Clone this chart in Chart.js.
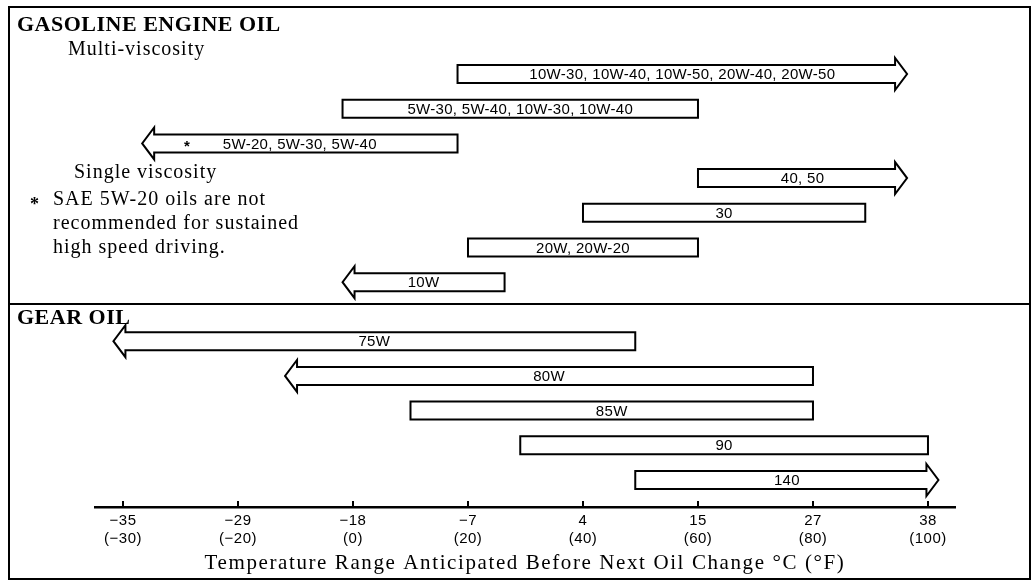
<!DOCTYPE html>
<html>
<head>
<meta charset="utf-8">
<title>Oil viscosity chart</title>
<script src="https://cdn.jsdelivr.net/npm/chart.js@4.4.1/dist/chart.umd.min.js"></script>
<style>
  html, body { margin: 0; padding: 0; background: #fff; }
  #wrap { width: 1034px; height: 581px; }
</style>
</head>
<body>
<div id="wrap"><canvas id="oilChart"></canvas></div>
<script>
// Axis ticks: deg C on the first line, deg F in brackets below
const tickC = [-35, -29, -18, -7, 4, 15, 27, 38];
const tickF = [-30, -20, 0, 20, 40, 60, 80, 100];

// Gasoline engine oil (multi-viscosity rows first, then single viscosity)
const gasLabels = [
  "10W-30, 10W-40, 10W-50, 20W-40, 20W-50",
  "5W-30, 5W-40, 10W-30, 10W-40",
  "5W-20, 5W-30, 5W-40",
  "40, 50",
  "30",
  "20W, 20W-20",
  "10W",
];
const gasFrom = [-8, -19, -34, 15, 4, -7, -19];
const gasTo = [36, 15, -8, 36, 32, 15, -3.5];
const gasArrow = ["right", "", "left", "right", "", "", "left"];
const gasMark = ["", "", "*", "", "", "", ""];

// Gear oil
const gearLabels = ["75W", "80W", "85W", "90", "140"];
const gearFrom = [-35.5, -24.5, -12.5, -2, 9];
const gearTo = [9, 27, 27, 38, 39];
const gearArrow = ["left", "left", "", "", "right"];

const SERIF = '"Liberation Serif", "DejaVu Serif", serif';
const SANS = '"Liberation Sans", "DejaVu Sans", sans-serif';
const GEAR_OFFSET = 7.7; // gap left for the "GEAR OIL" heading

// the printed axis spaces its ticks evenly, so map deg C onto tick index
function toAxis(c) {
  let i = 0;
  while (i < tickC.length - 2 && c > tickC[i + 1]) i++;
  return i + (c - tickC[i]) / (tickC[i + 1] - tickC[i]);
}
const minus = (n) => String(n).replace("-", "\u2212");

const rowLabels = gasLabels.concat(gearLabels);
const rowArrow = gasArrow.concat(gearArrow);
const rowMark = gasMark.concat(gearLabels.map(() => ""));
const rowData = [];
gasLabels.forEach((l, i) => rowData.push({ x: [toAxis(gasFrom[i]), toAxis(gasTo[i])], y: i }));
gearLabels.forEach((l, i) => rowData.push({ x: [toAxis(gearFrom[i]), toAxis(gearTo[i])], y: GEAR_OFFSET + i }));

const oilPlugin = {
  id: "oilPlugin",
  beforeDraw(chart) {
    const ctx = chart.ctx;
    ctx.fillStyle = "#fff";
    ctx.fillRect(0, 0, chart.width, chart.height);
    ctx.letterSpacing = "0.5px"; // slightly loose tick labels
  },
  afterDatasetsDraw(chart) {
    const ctx = chart.ctx;
    const bars = chart.getDatasetMeta(0).data;
    const h = 9, hh = 16, L = 12;
    ctx.save();
    ctx.letterSpacing = "0.3px";
    bars.forEach((bar, i) => {
      const p = bar.getProps(["x", "base", "y"], true);
      const left = Math.min(p.x, p.base);
      const right = Math.max(p.x, p.base);
      const y = p.y;
      ctx.beginPath();
      if (rowArrow[i] === "right") {
        ctx.moveTo(left, y - h);
        ctx.lineTo(right - L, y - h);
        ctx.lineTo(right - L, y - hh);
        ctx.lineTo(right, y);
        ctx.lineTo(right - L, y + hh);
        ctx.lineTo(right - L, y + h);
        ctx.lineTo(left, y + h);
      } else if (rowArrow[i] === "left") {
        ctx.moveTo(right, y - h);
        ctx.lineTo(left + L, y - h);
        ctx.lineTo(left + L, y - hh);
        ctx.lineTo(left, y);
        ctx.lineTo(left + L, y + hh);
        ctx.lineTo(left + L, y + h);
        ctx.lineTo(right, y + h);
      } else {
        ctx.rect(left, y - h, right - left, 2 * h);
      }
      ctx.closePath();
      ctx.fillStyle = "#fff";
      ctx.fill();
      ctx.lineWidth = 2;
      ctx.strokeStyle = "#000";
      ctx.stroke();

      ctx.fillStyle = "#000";
      ctx.font = "15px " + SANS;
      ctx.textAlign = "center";
      ctx.textBaseline = "middle";
      ctx.fillText(rowLabels[i], (left + right) / 2, y + 1);
      if (rowMark[i]) {
        ctx.font = "bold 15px " + SANS;
        ctx.fillText(rowMark[i], left + 45, y + 3);
      }
    });
    ctx.restore();
  },
  afterDraw(chart) {
    const ctx = chart.ctx;
    const xs = chart.scales.x;
    const area = chart.chartArea;
    ctx.save();
    // small tick marks standing on the axis line
    ctx.strokeStyle = "#000";
    ctx.lineWidth = 2;
    tickC.forEach((c, i) => {
      const px = xs.getPixelForValue(i);
      ctx.beginPath();
      ctx.moveTo(px, area.bottom - 6);
      ctx.lineTo(px, area.bottom);
      ctx.stroke();
    });
    // frame and divider
    ctx.strokeRect(9, 7, 1021, 572);
    ctx.beginPath();
    ctx.moveTo(9, 304);
    ctx.lineTo(1030, 304);
    ctx.stroke();

    ctx.fillStyle = "#000";
    ctx.textAlign = "left";
    ctx.textBaseline = "alphabetic";
    ctx.letterSpacing = "0.5px";
    ctx.font = "bold 22px " + SERIF;
    ctx.fillText("GASOLINE ENGINE OIL", 17, 31);
    ctx.fillText("GEAR OIL", 17, 324);
    ctx.letterSpacing = "1px";
    ctx.font = "20px " + SERIF;
    ctx.fillText("Multi-viscosity", 68, 55);
    ctx.fillText("Single viscosity", 74, 178);
    ctx.fillText("SAE 5W-20 oils are not", 53, 205);
    ctx.fillText("recommended for sustained", 53, 229);
    ctx.fillText("high speed driving.", 53, 253);
    ctx.font = "bold 18px " + SERIF;
    ctx.fillText("*", 30, 210);
    // axis title
    ctx.textAlign = "center";
    ctx.letterSpacing = "1.6px";
    ctx.font = "21px " + SERIF;
    ctx.fillText("Temperature Range Anticipated Before Next Oil Change \u00B0C (\u00B0F)", (area.left + area.right) / 2, 569);
    ctx.restore();
  },
};

const ctx = document.getElementById("oilChart").getContext("2d");
new Chart(ctx, {
  type: "bar",
  data: {
    datasets: [
      {
        label: "Recommended range",
        data: rowData,
        backgroundColor: "rgba(0,0,0,0)",
        borderWidth: 0,
        barThickness: 18,
      },
    ],
  },
  options: {
    indexAxis: "y",
    responsive: true,
    maintainAspectRatio: false,
    animation: false,
    layout: { padding: { top: 40, left: 95, right: 79, bottom: 0 } },
    plugins: { legend: { display: false }, tooltip: { enabled: false } },
    scales: {
      y: {
        type: "linear",
        reverse: true,
        offset: false,
        min: -0.98,
        max: 12.478,
        display: false,
      },
      x: {
        type: "linear",
        min: -0.2435,
        max: 7.235,
        grid: { display: false, drawTicks: false },
        border: { display: true, color: "#000", width: 2.5 },
        afterBuildTicks: (scale) => {
          scale.ticks = tickC.map((c, i) => ({ value: i }));
        },
        afterFit: (scale) => {
          scale.height = 74;
        },
        ticks: {
          autoSkip: false,
          maxRotation: 0,
          padding: 4,
          color: "#000",
          font: { family: SANS, size: 15, lineHeight: 1.25 },
          callback: (v, i) => [minus(tickC[i]), "(" + minus(tickF[i]) + ")"],
        },
      },
    },
  },
  plugins: [oilPlugin],
});
</script>
</body>
</html>
